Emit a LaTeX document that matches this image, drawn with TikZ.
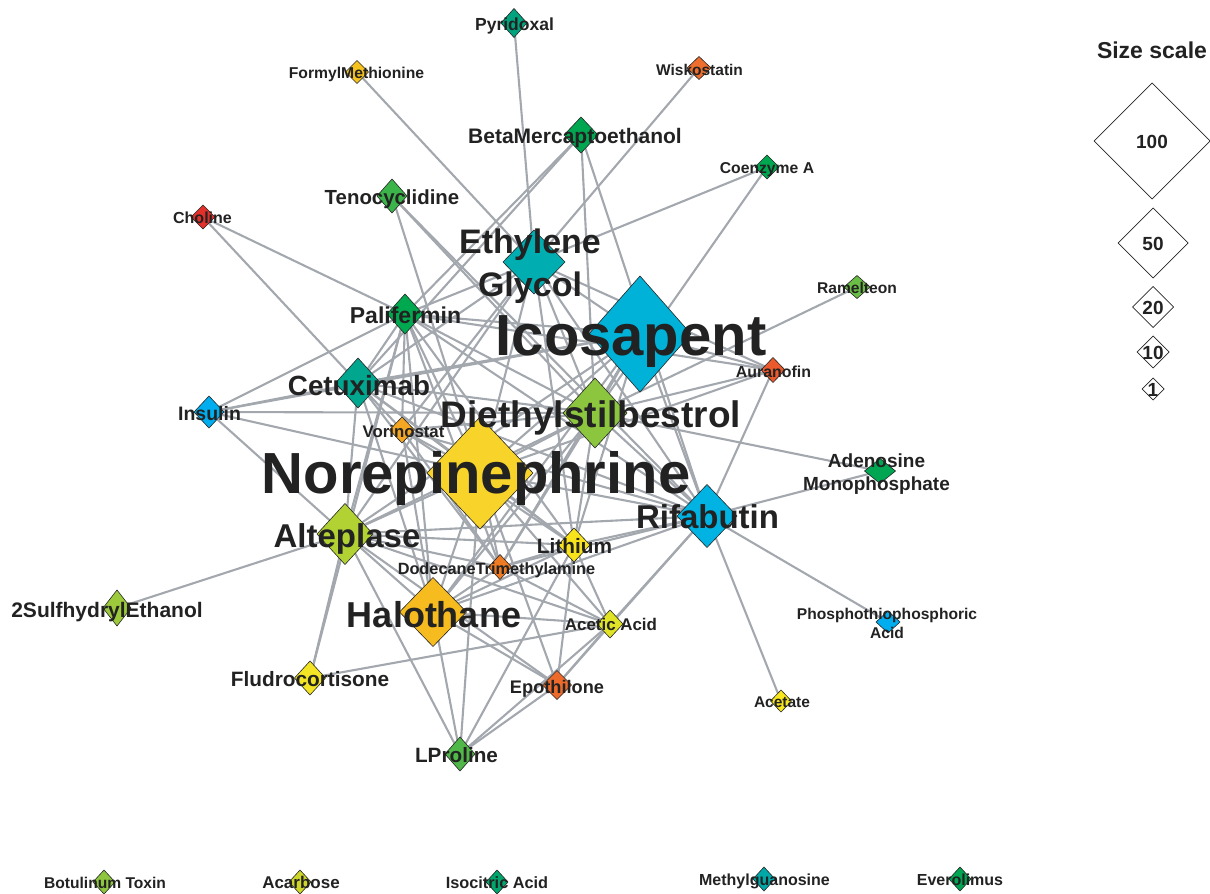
\documentclass[tikz,border=0pt]{standalone}
\usepackage{fontspec}
\setmainfont{Liberation Sans}
\usetikzlibrary{shapes.geometric}
\pgfdeclarelayer{bg}
\pgfdeclarelayer{fg}
\pgfsetlayers{bg,main,fg}
\definecolor{edgecol}{HTML}{A3A7AE}
\definecolor{labcol}{HTML}{222222}
\definecolor{cPyr}{HTML}{00A37D}
\definecolor{cFmet}{HTML}{F6C31E}
\definecolor{cWisk}{HTML}{EE6F2D}
\definecolor{cBme}{HTML}{00A650}
\definecolor{cCoa}{HTML}{00A650}
\definecolor{cTeno}{HTML}{3BB44A}
\definecolor{cChol}{HTML}{E3302A}
\definecolor{cEg}{HTML}{00AEB2}
\definecolor{cRam}{HTML}{6BBE45}
\definecolor{cIco}{HTML}{00B2D8}
\definecolor{cPali}{HTML}{00A94F}
\definecolor{cAur}{HTML}{EA5A2C}
\definecolor{cCet}{HTML}{00A68E}
\definecolor{cIns}{HTML}{00AEEF}
\definecolor{cDiet}{HTML}{8CC63F}
\definecolor{cVori}{HTML}{F5A623}
\definecolor{cNore}{HTML}{F8D42A}
\definecolor{cAdeno}{HTML}{00A651}
\definecolor{cRif}{HTML}{00B3E3}
\definecolor{cAlt}{HTML}{B2D234}
\definecolor{cLith}{HTML}{F7E21C}
\definecolor{cDode}{HTML}{EF7B23}
\definecolor{cSulf}{HTML}{9CCA3B}
\definecolor{cHalo}{HTML}{F6BB1F}
\definecolor{cAcac}{HTML}{E1E326}
\definecolor{cPhos}{HTML}{00AEEF}
\definecolor{cFludro}{HTML}{F3E526}
\definecolor{cEpo}{HTML}{EE6A2A}
\definecolor{cAcetate}{HTML}{F9E71D}
\definecolor{cLpro}{HTML}{50B848}
\definecolor{cBotu}{HTML}{8EC63F}
\definecolor{cAcar}{HTML}{CFD62A}
\definecolor{cIsoc}{HTML}{00A66C}
\definecolor{cMethyl}{HTML}{00A9A8}
\definecolor{cEvero}{HTML}{00A651}
\newcommand\fsz[1]{\fontsize{#1}{#1}\selectfont\bfseries}
\tikzset{
  dn/.style 2 args={diamond, draw=black!85, line width=0.6pt, inner sep=0pt, outer sep=0pt,
                    minimum width=#1, minimum height=#2},
  lgd/.style={diamond, draw=black!85, line width=0.7pt, fill=white, inner sep=0pt, outer sep=0pt,
              minimum width=#1, minimum height=#1},
  lbl/.style={anchor=base, text=labcol, inner sep=0pt, outer sep=0pt},
  lnk/.style={draw=edgecol, line width=2.1pt}
}
\begin{document}
\begin{tikzpicture}[x=1pt,y=-1pt]
\useasboundingbox (0,0) rectangle (1210,894);
% nodes (diamonds)
\node[dn={26}{29}, fill=cPyr] (pyr) at (514,23) {};
\node[dn={23}{23}, fill=cFmet] (fmet) at (357,72) {};
\node[dn={24}{23}, fill=cWisk] (wisk) at (699,68) {};
\node[dn={34}{36}, fill=cBme] (bme) at (581,135) {};
\node[dn={24}{24}, fill=cCoa] (coa) at (767,167) {};
\node[dn={30}{34}, fill=cTeno] (teno) at (392,196) {};
\node[dn={24}{24}, fill=cChol] (chol) at (203,217) {};
\node[dn={62}{64}, fill=cEg] (eg) at (534,262) {};
\node[dn={26}{23}, fill=cRam] (ram) at (857,287) {};
\node[dn={102}{116}, fill=cIco] (ico) at (640,334) {};
\node[dn={36}{40}, fill=cPali] (pali) at (405,314) {};
\node[dn={24}{25}, fill=cAur] (aur) at (773,370) {};
\node[dn={45}{50}, fill=cCet] (cet) at (358,383) {};
\node[dn={30}{32}, fill=cIns] (ins) at (209,412) {};
\node[dn={64}{70}, fill=cDiet] (diet) at (595,413) {};
\node[dn={25}{26}, fill=cVori] (vori) at (402,430) {};
\node[dn={106}{112}, fill=cNore] (nore) at (480,473) {};
\node[dn={31}{25}, fill=cAdeno] (adeno) at (880,471) {};
\node[dn={60}{63}, fill=cRif] (rif) at (707,516) {};
\node[dn={56}{61}, fill=cAlt] (alt) at (345,534) {};
\node[dn={32}{34}, fill=cLith] (lith) at (574,545) {};
\node[dn={23}{25}, fill=cDode] (dode) at (500,567) {};
\node[dn={28}{36}, fill=cSulf] (sulf) at (117,608) {};
\node[dn={67}{69}, fill=cHalo] (halo) at (433,612) {};
\node[dn={26}{28}, fill=cAcac] (acac) at (610,624) {};
\node[dn={24}{22}, fill=cPhos] (phos) at (888,622) {};
\node[dn={31}{34}, fill=cFludro] (fludro) at (310,678) {};
\node[dn={29}{29}, fill=cEpo] (epo) at (557,685) {};
\node[dn={21}{22}, fill=cAcetate] (acetate) at (781,701) {};
\node[dn={30}{34}, fill=cLpro] (lpro) at (460,754) {};
\node[dn={22}{24}, fill=cBotu] (botu) at (104,882) {};
\node[dn={22}{24}, fill=cAcar] (acar) at (300,882) {};
\node[dn={22}{24}, fill=cIsoc] (isoc) at (497,882) {};
\node[dn={22}{24}, fill=cMethyl] (methyl) at (764,879) {};
\node[dn={22}{24}, fill=cEvero] (evero) at (960,879) {};
% legend diamonds
\node[lgd=116] (s100) at (1152,141) {};
\node[lgd=70] (s50) at (1153,243) {};
\node[lgd=41] (s20) at (1153,307) {};
\node[lgd=32] (s10) at (1153,352) {};
\node[lgd=22] (s1) at (1153,389) {};
% edges
\begin{pgfonlayer}{bg}
\foreach \a/\b in {pyr/eg,fmet/eg,wisk/eg,coa/eg,coa/diet,bme/pali,bme/cet,bme/diet,bme/rif,
  teno/nore,teno/diet,teno/rif,chol/pali,chol/cet,ram/diet,
  aur/eg,aur/ico,aur/diet,aur/nore,aur/rif,aur/pali,adeno/diet,adeno/rif,phos/rif,acetate/rif,
  sulf/alt,fludro/alt,fludro/pali,fludro/acac,
  ins/pali,ins/cet,ins/ico,ins/diet,ins/nore,ins/alt,
  lpro/alt,lpro/halo,lpro/nore,lpro/epo,lpro/acac,lpro/lith,
  eg/pali,eg/cet,eg/ico,eg/diet,eg/nore,eg/alt,eg/rif,eg/lith,eg/vori,
  ico/pali,ico/cet,ico/diet,ico/nore,ico/rif,ico/alt,ico/lith,ico/halo,ico/dode,
  diet/pali,diet/cet,diet/nore,diet/rif,diet/alt,diet/halo,diet/lith,diet/dode,diet/vori,
  nore/pali,nore/cet,nore/vori,nore/rif,nore/alt,nore/halo,nore/dode,nore/lith,nore/acac,nore/epo,
  pali/cet,pali/vori,pali/alt,pali/dode,pali/lith,pali/rif,pali/halo,
  cet/alt,cet/vori,cet/dode,cet/lith,cet/rif,cet/halo,
  vori/dode,vori/halo,vori/lith,vori/rif,
  alt/halo,alt/dode,alt/lith,alt/acac,alt/epo,alt/rif,
  halo/dode,halo/lith,halo/acac,halo/epo,halo/rif,
  dode/lith,dode/acac,dode/rif,
  lith/acac,lith/epo,lith/rif,
  acac/epo,acac/rif,epo/rif}
  \draw[lnk] (\a.center) -- (\b.center);
\end{pgfonlayer}
% labels
\begin{pgfonlayer}{fg}
\node[lbl, font=\fsz{17.5}] (l-pyr) at (514.5,30) {Pyridoxal};
\node[lbl, font=\fsz{15.7}] (l-fmet) at (356.5,78) {FormylMethionine};
\node[lbl, font=\fsz{15.5}] (l-wisk) at (699.5,75) {Wiskostatin};
\node[lbl, font=\fsz{21}] (l-bme) at (575,143) {BetaMercaptoethanol};
\node[lbl, font=\fsz{15.7}] (l-coa) at (767,173) {Coenzyme A};
\node[lbl, font=\fsz{20.4}] (l-teno) at (392,204) {Tenocyclidine};
\node[lbl, font=\fsz{16}] (l-chol) at (202.5,223) {Choline};
\node[lbl, font=\fsz{34}] (l-eg1) at (530,253) {Ethylene};
\node[lbl, font=\fsz{34}] (l-eg2) at (530,296) {Glycol};
\node[lbl, font=\fsz{15.6}] (l-ram) at (857,293) {Ramelteon};
\node[lbl, font=\fsz{58}] (l-ico) at (631,355) {Icosapent};
\node[lbl, font=\fsz{23}] (l-pali) at (405.5,323) {Palifermin};
\node[lbl, font=\fsz{15.9}] (l-aur) at (773.5,377) {Auranofin};
\node[lbl, font=\fsz{27.8}] (l-cet) at (359,395) {Cetuximab};
\node[lbl, font=\fsz{19.5}] (l-ins) at (209.5,420) {Insulin};
\node[lbl, font=\fsz{37}] (l-diet) at (591,427) {Diethylstilbestrol};
\node[lbl, font=\fsz{16.8}] (l-vori) at (403.5,437) {Vorinostat};
\node[lbl, font=\fsz{58}] (l-nore) at (476,493) {Norepinephrine};
\node[lbl, font=\fsz{19}] (l-adeno1) at (876.5,467) {Adenosine};
\node[lbl, font=\fsz{19}] (l-adeno2) at (876.5,490) {Monophosphate};
\node[lbl, font=\fsz{33}] (l-rif) at (707.5,528) {Rifabutin};
\node[lbl, font=\fsz{33}] (l-alt) at (347,547) {Alteplase};
\node[lbl, font=\fsz{20.8}] (l-lith) at (574.5,553) {Lithium};
\node[lbl, font=\fsz{16.3}] (l-dode) at (496.5,574) {DodecaneTrimethylamine};
\node[lbl, font=\fsz{21}] (l-sulf) at (107,617) {2SulfhydrylEthanol};
\node[lbl, font=\fsz{36}] (l-halo) at (434,627) {Halothane};
\node[lbl, font=\fsz{16.9}] (l-acac) at (611,630) {Acetic Acid};
\node[lbl, font=\fsz{15.6}] (l-phos1) at (887,619) {Phosphothiophosphoric};
\node[lbl, font=\fsz{15.6}] (l-phos2) at (887,638) {Acid};
\node[lbl, font=\fsz{20.8}] (l-fludro) at (310,686) {Fludrocortisone};
\node[lbl, font=\fsz{18.2}] (l-epo) at (557,693) {Epothilone};
\node[lbl, font=\fsz{15.5}] (l-acetate) at (782,707) {Acetate};
\node[lbl, font=\fsz{20.7}] (l-lpro) at (456.5,762) {LProline};
\node[lbl, font=\fsz{15.6}] (l-botu) at (105,888) {Botulinum Toxin};
\node[lbl, font=\fsz{17}] (l-acar) at (301,888) {Acarbose};
\node[lbl, font=\fsz{16.3}] (l-isoc) at (497,888) {Isocitric Acid};
\node[lbl, font=\fsz{16}] (l-methyl) at (764.5,885) {Methylguanosine};
\node[lbl, font=\fsz{16}] (l-evero) at (960,885) {Everolimus};
\node[lbl, anchor=base west, font=\fsz{23}] (l-size) at (1097,58) {Size scale};
\node[lbl, font=\fsz{19}] (l-s100) at (s100.center) [yshift=-7pt] {100};
\node[lbl, font=\fsz{19}] (l-s50) at (s50.center) [yshift=-7pt] {50};
\node[lbl, font=\fsz{19}] (l-s20) at (s20.center) [yshift=-7pt] {20};
\node[lbl, font=\fsz{19}] (l-s10) at (s10.center) [yshift=-7pt] {10};
\node[lbl, font=\fsz{19}] (l-s1) at (s1.center) [yshift=-7pt] {1};
\end{pgfonlayer}
\end{tikzpicture}
\end{document}
